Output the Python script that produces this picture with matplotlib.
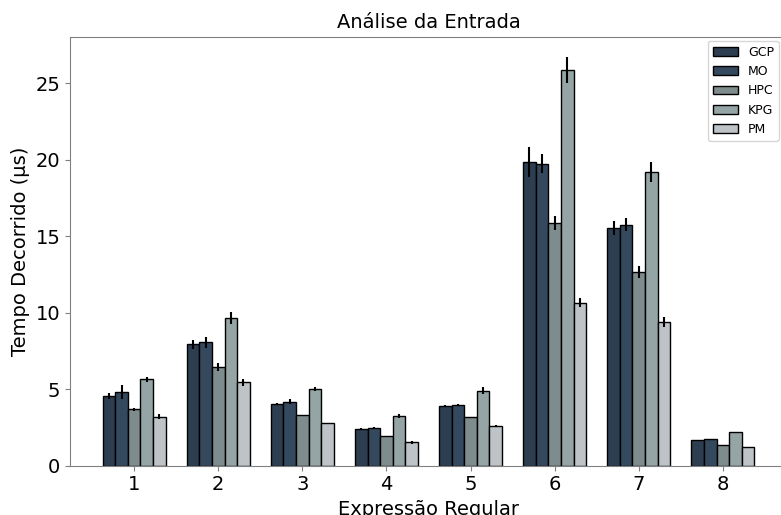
import matplotlib
matplotlib.use("Agg")
import matplotlib.pyplot as plt
import numpy as np

categories = ["1", "2", "3", "4", "5", "6", "7", "8"]
series_names = ["GCP", "MO", "HPC", "KPG", "PM"]

gcp = [4.55, 7.93, 4.05, 2.42, 3.88, 19.88, 15.57, 1.68]
mo = [4.83, 8.06, 4.18, 2.48, 3.98, 19.75, 15.77, 1.74]
hpc = [3.68, 6.45, 3.29, 1.92, 3.16, 15.87, 12.67, 1.33]
kpg = [5.64, 9.63, 5.03, 3.27, 4.90, 25.89, 19.20, 2.18]
pm = [3.20, 5.45, 2.79, 1.53, 2.61, 10.65, 9.39, 1.20]

gcp_err = [0.18, 0.31, 0.05, 0.02, 0.07, 0.98, 0.46, 0.02]
mo_err = [0.44, 0.33, 0.16, 0.03, 0.05, 0.61, 0.45, 0.03]
hpc_err = [0.08, 0.24, 0.03, 0.02, 0.03, 0.46, 0.37, 0.02]
kpg_err = [0.16, 0.39, 0.12, 0.13, 0.22, 0.83, 0.63, 0.03]
pm_err = [0.17, 0.25, 0.02, 0.10, 0.04, 0.29, 0.35, 0.03]

values = [gcp, mo, hpc, kpg, pm]
errors = [gcp_err, mo_err, hpc_err, kpg_err, pm_err]
colors = ["#2c3e50", "#34495e", "#7f8c8d", "#95a5a6", "#bdc3c7"]

fig = plt.figure(figsize=(7.81, 5.15), dpi=100)
ax = fig.add_axes([70 / 781, (515 - 465.7) / 515, (787 - 70) / 781, (465.7 - 36.7) / 515])

x = np.arange(1, len(categories) + 1)
width = 0.15
for k, (name, vals, errs, c) in enumerate(zip(series_names, values, errors, colors)):
    ax.bar(x + (k - 2) * width, vals, width, yerr=errs, color=c, edgecolor="black",
           linewidth=1.0, label=name, error_kw=dict(ecolor="black", elinewidth=1.5, capsize=0))

ax.set_xticks(x)
ax.set_xticklabels(categories)
ax.tick_params(labelsize=14, color="#808080")
for s in ax.spines.values():
    s.set_color("#808080")
ax.set_title("Análise da Entrada", fontsize=14)
ax.set_xlabel("Expressão Regular", fontsize=14)
ax.set_ylabel("Tempo Decorrido (µs)", fontsize=14)
ax.legend(loc="upper right", fontsize=9, bbox_to_anchor=(0.9975, 1.005))

fig.savefig("out.png", dpi=100)
